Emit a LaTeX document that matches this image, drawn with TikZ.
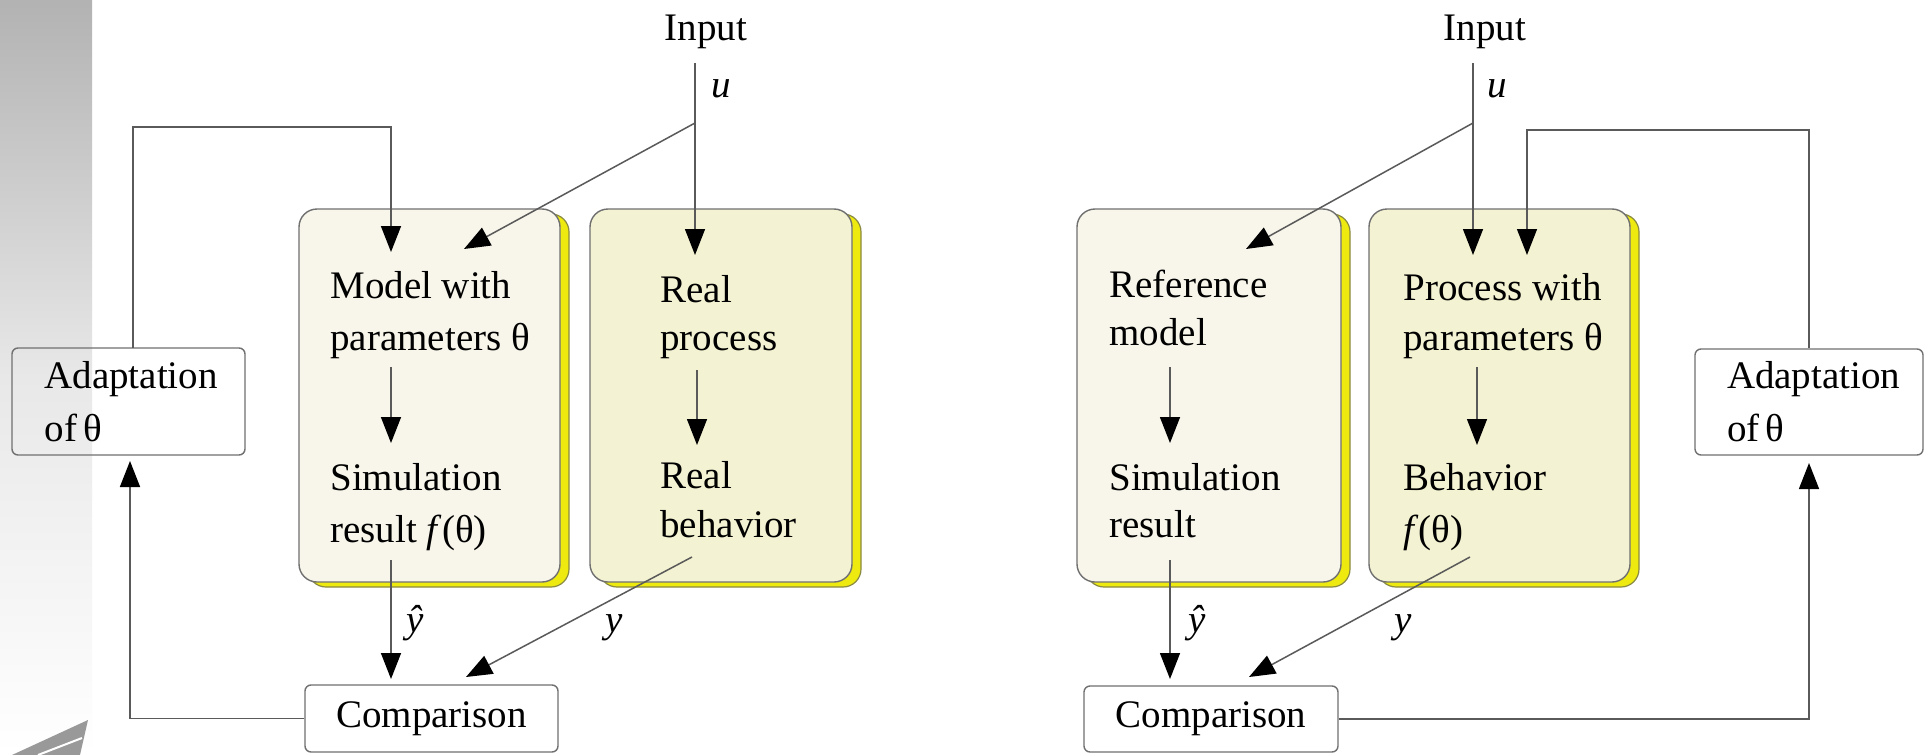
\documentclass[tikz,border=0pt]{standalone}
\usepackage{fontspec}
\setmainfont{Liberation Serif}
\usetikzlibrary{arrows.meta,shadows}

\definecolor{linegray}{HTML}{5A5A5A}
\definecolor{boxline}{HTML}{707070}
\definecolor{modelfill}{HTML}{F8F6EA}
\definecolor{procfill}{HTML}{F3F2D2}
\definecolor{shadowyellow}{HTML}{EEEA10}
\definecolor{shadowline}{HTML}{8A8A40}

\tikzset{
  txt/.style={font=\fontsize{19.5pt}{26pt}\selectfont, inner sep=0pt, align=left},
  bigbox/.style={draw=boxline, line width=0.7pt, rounded corners=9pt,
    general shadow={shadow xshift=4.5pt, shadow yshift=-2.5pt,
      fill=shadowyellow, draw=shadowline, line width=0.6pt}},
  smallbox/.style={draw=boxline, line width=0.7pt, rounded corners=3pt,
    font=\fontsize{19.5pt}{26.5pt}\selectfont, align=left, inner sep=0pt},
  conn/.style={draw=linegray, line width=0.75pt},
  arr/.style={conn, -{Triangle[length=13pt, width=10pt, color=black, fill=black]}},
}

\begin{document}
\begin{tikzpicture}[x=0.5pt, y=-0.5pt]
\useasboundingbox (0,0) rectangle (1928,755);
\fill[white] (0,0) rectangle (1928,755);

% decorative strip and wedge at the left edge
\shade[top color=black!30, bottom color=white, middle color=black!9]
  (0,0) rectangle (92,755);
\fill[black!40] (88,720) -- (12,755) -- (80,755) -- cycle;
\draw[white, line width=1pt] (82,738) -- (38,755);

% ===================== left: model adaptation =====================
\node[txt, anchor=base] (inL) at (706,40) {Input};
\coordinate (uL) at (695,63);
\coordinate (splitL) at (695,123);
\node[txt, font=\fontsize{19.5pt}{26pt}\selectfont\itshape, anchor=base west] (uLlab) at (711,97) {u};

\node[bigbox, fill=modelfill, minimum width=130.5pt, minimum height=186.5pt] (b1) at (429.5,395.5) {};
\node[bigbox, fill=procfill, minimum width=131pt, minimum height=186.5pt] (b2) at (721,395.5) {};

\node[txt, anchor=base west] (m1a) at (330,298) {Model with};
\node[txt, anchor=base west] (m1b) at (330,350) {parameters θ};
\node[txt, anchor=base west] (s1a) at (330,490) {Simulation};
\node[txt, anchor=base west] (s1b) at (330,542) {result \textit{f}(θ)};

\node[txt, anchor=base west] (r1a) at (660,302) {Real};
\node[txt, anchor=base west] (r1b) at (660,350) {process};
\node[txt, anchor=base west] (r2a) at (660,488) {Real};
\node[txt, anchor=base west] (r2b) at (660,537) {behavior};

\node[smallbox, minimum width=116.5pt, minimum height=53.5pt, text width=84pt] (adL) at (128.5,401.5) {Adaptation\\of\,θ};
\node[smallbox, fill=white, minimum width=126.5pt, minimum height=33.5pt] (cmpL) at (431.5,718.5) {Comparison};

% input paths
\coordinate (inB2) at (695,255);
\coordinate (inB1) at (464,249);
\draw[arr] (uL) -- (inB2);
\draw[arr] (splitL) -- (inB1);
% adaptation feeds the model parameters
\coordinate (adLtop) at (133,348);
\coordinate (fbL) at (391,127);
\coordinate (parB1) at (391,252);
\draw[arr] (adLtop) |- (fbL) -- (parB1);
% inner flows
\coordinate (m1s) at (391,367);
\coordinate (s1n) at (391,443);
\coordinate (r1s) at (697,370);
\coordinate (r2n) at (697,445);
\draw[arr] (m1s) -- (s1n);
\draw[arr] (r1s) -- (r2n);
% outputs to comparison
\coordinate (s1s) at (391,560);
\coordinate (cmpLa) at (391,679);
\coordinate (r2s) at (692,557);
\coordinate (cmpLb) at (466,677);
\draw[arr] (s1s) -- (cmpLa);
\draw[arr] (r2s) -- (cmpLb);
\node[txt, anchor=base] (yhL) at (415,632) {\textit{ŷ}};
\node[txt, anchor=base] (yL) at (614,632) {\textit{y}};
% comparison back to adaptation
\coordinate (adLbot) at (130,461);
\draw[arr] (cmpL.west) -| (adLbot);

% ===================== right: process adaptation =====================
\node[txt, anchor=base] (inR) at (1485,40) {Input};
\coordinate (uR) at (1473,63);
\coordinate (splitR) at (1473,123);
\node[txt, font=\fontsize{19.5pt}{26pt}\selectfont\itshape, anchor=base west] (uRlab) at (1487,97) {u};

\node[bigbox, fill=modelfill, minimum width=132pt, minimum height=186.5pt] (b3) at (1209,395.5) {};
\node[bigbox, fill=procfill, minimum width=130.5pt, minimum height=186.5pt] (b4) at (1499.5,395.5) {};

\node[txt, anchor=base west] (f3a) at (1109,297) {Reference};
\node[txt, anchor=base west] (f3b) at (1109,345) {model};
\node[txt, anchor=base west] (s3a) at (1109,490) {Simulation};
\node[txt, anchor=base west] (s3b) at (1109,537) {result};

\node[txt, anchor=base west] (p4a) at (1403,300) {Process with};
\node[txt, anchor=base west] (p4b) at (1403,350) {parameters θ};
\node[txt, anchor=base west] (h4a) at (1403,490) {Behavior};
\node[txt, anchor=base west] (h4b) at (1403,542) {\textit{f}(θ)};

\node[smallbox, minimum width=114pt, minimum height=53pt, text width=82pt] (adR) at (1809,402) {Adaptation\\of\,θ};
\node[smallbox, fill=white, minimum width=127pt, minimum height=33pt] (cmpR) at (1211,719) {Comparison};

% input paths
\coordinate (inB4) at (1473,255);
\coordinate (inB3) at (1246,249);
\draw[arr] (uR) -- (inB4);
\draw[arr] (splitR) -- (inB3);
% adaptation feeds the process parameters
\coordinate (fbR) at (1527,130);
\coordinate (parB4) at (1527,255);
\draw[arr] (adR.north) |- (fbR) -- (parB4);
% inner flows
\coordinate (f3s) at (1170,367);
\coordinate (s3n) at (1170,443);
\coordinate (p4s) at (1477,367);
\coordinate (h4n) at (1477,445);
\draw[arr] (f3s) -- (s3n);
\draw[arr] (p4s) -- (h4n);
% outputs to comparison
\coordinate (s3s) at (1170,560);
\coordinate (cmpRa) at (1170,679);
\coordinate (h4s) at (1470,557);
\coordinate (cmpRb) at (1249,677);
\draw[arr] (s3s) -- (cmpRa);
\draw[arr] (h4s) -- (cmpRb);
\node[txt, anchor=base] (yhR) at (1197,632) {\textit{ŷ}};
\node[txt, anchor=base] (yR) at (1403,632) {\textit{y}};
% comparison forward to adaptation
\coordinate (adRbot) at (1809,463);
\draw[arr] (cmpR.east) -| (adRbot);
\end{tikzpicture}
\end{document}
